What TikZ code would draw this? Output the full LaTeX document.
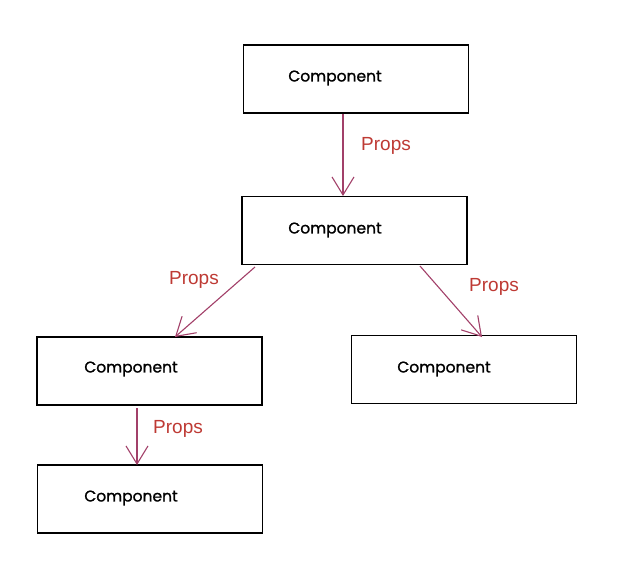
\documentclass[tikz,border=0pt]{standalone}
\usepackage{fontspec}
\setmainfont{Liberation Sans}
\newfontfamily\handfont[FakeBold=1.2]{Poppins}
\usetikzlibrary{arrows.meta}
\definecolor{arrowc}{HTML}{A24069}
\definecolor{labelc}{HTML}{BE3A34}
\tikzset{
  comp/.style={draw=black, line width=1.3pt, fill=white, minimum width=225pt, minimum height=68pt, inner sep=0pt},
  comptext/.style={font=\handfont\fontsize{15.5}{18}\selectfont, text=black, anchor=center},
  flow/.style={draw=arrowc, line width=1.1pt, -{Straight Barb[length=18pt,width=22pt,line width=1.1pt]}},
  props/.style={font=\fontsize{19}{22}\selectfont, text=labelc, anchor=center}
}
\begin{document}
\begin{tikzpicture}[x=1pt,y=-1pt]
\useasboundingbox (0,0) rectangle (631,587);
\node[comp] (c1) at (356,79) {};
\node[comp] (c2) at (354.5,230.5) {};
\node[comp] (c3) at (149.5,371) {};
\node[comp] (c4) at (464,369.5) {};
\node[comp] (c5) at (150,499) {};
\node[comptext] (t1) at (335,78) {Component};
\node[comptext] (t2) at (335,230) {Component};
\node[comptext] (t3) at (131,369) {Component};
\node[comptext] (t4) at (444,369) {Component};
\node[comptext] (t5) at (131,498) {Component};
\coordinate (a1s) at (343,114);
\coordinate (a1e) at (343,196);
\coordinate (a2s) at (255,267);
\coordinate (a2e) at (175,337);
\coordinate (a3s) at (420,266);
\coordinate (a3e) at (482,337);
\coordinate (a4s) at (137,408);
\coordinate (a4e) at (137,465);
\draw[flow] (a1s) -- (a1e);
\draw[flow] (a2s) -- (a2e);
\draw[flow] (a3s) -- (a3e);
\draw[flow] (a4s) -- (a4e);
\node[props] (p1) at (386,146) {Props};
\node[props] (p2) at (194,280) {Props};
\node[props] (p3) at (494,287) {Props};
\node[props] (p4) at (178,429) {Props};
\end{tikzpicture}
\end{document}
